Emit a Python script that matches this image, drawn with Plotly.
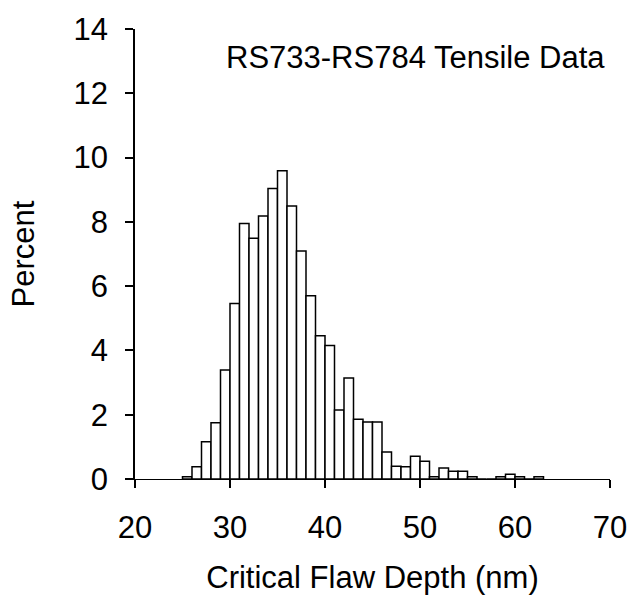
import plotly.graph_objects as go

# Bin lower edges (nm), 1-nm wide bins
bin_start = [25, 26, 27, 28, 29, 30, 31, 32, 33, 34, 35, 36, 37, 38, 39, 40, 41, 42, 43,
             44, 45, 46, 47, 48, 49, 50, 51, 52, 53, 54, 55, 56, 57, 58, 59, 60, 61, 62]
percent = [0.07, 0.38, 1.16, 1.75, 3.39, 5.46, 7.95, 7.49, 8.18, 9.04, 9.59, 8.49, 7.09,
           5.70, 4.46, 4.15, 2.15, 3.14, 1.86, 1.77, 1.77, 0.84, 0.40, 0.38, 0.71, 0.55,
           0.07, 0.34, 0.24, 0.24, 0.07, 0.0, 0.0, 0.07, 0.15, 0.07, 0.0, 0.07]
x_ticks = [20, 30, 40, 50, 60, 70]
y_ticks = [0, 2, 4, 6, 8, 10, 12, 14]
title_text = "RS733-RS784 Tensile Data"
x_title = "Critical Flaw Depth (nm)"
y_title = "Percent"

FONT = "Liberation Sans, Arial, sans-serif"
FS = 31

fig = go.Figure(go.Bar(
    x=[b + 0.5 for b in bin_start],
    y=percent,
    width=1,
    marker=dict(color="white", line=dict(color="black", width=1.5)),
))

fig.update_layout(
    width=639, height=602,
    margin=dict(l=135, r=25, t=22, b=123),
    paper_bgcolor="white", plot_bgcolor="white",
    showlegend=False,
    font=dict(family=FONT, size=FS, color="black"),
    annotations=[dict(text=title_text, x=49.5, y=13.1, xref="x", yref="y",
                      showarrow=False, font=dict(family=FONT, size=FS, color="black"))],
)
fig.update_xaxes(
    range=[20, 70], tickvals=x_ticks, ticks="outside", ticklen=8, tickwidth=1.5,
    tickcolor="black", showline=True, linecolor="black", linewidth=1.2,
    showgrid=False, zeroline=False, ticklabelstandoff=13,
    title=dict(text=x_title, standoff=22, font=dict(size=FS)),
)
fig.update_yaxes(
    range=[0, 14], tickvals=y_ticks, ticks="outside", ticklen=8, tickwidth=1.5,
    tickcolor="black", showline=True, linecolor="black", linewidth=1.5,
    showgrid=False, zeroline=False, ticklabelstandoff=11,
    title=dict(text=y_title, standoff=30, font=dict(size=FS)),
)

fig.write_html("out.html")
